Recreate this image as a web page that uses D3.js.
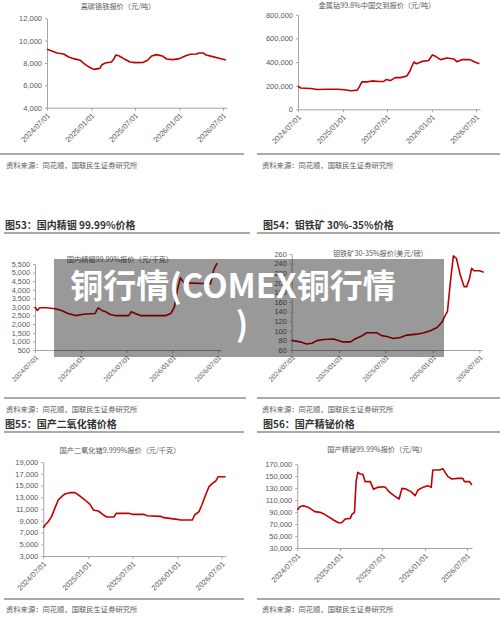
<!DOCTYPE html>
<html>
<head>
<meta charset="utf-8">
<script src="https://cdn.jsdelivr.net/npm/d3@7"></script>
<style>
  body { margin: 0; background: #fff; }
  svg { display: block; }
</style>
</head>
<body>
<svg id="page"></svg>
<script>
const WIDTH = 500;
const HEIGHT = 617;
const LINE_COLOR = "#c00000";
const FONT = "'Liberation Sans', 'Noto Sans CJK SC', sans-serif";
const CJK = "'Noto Sans CJK SC', sans-serif";

// shared x ticks
const xTickDates = ["2024-07-01", "2025-01-01", "2025-07-01", "2026-01-01", "2026-07-01"];
const xTickLabels = ["2024/07/01", "2025/01/01", "2025/07/01", "2026/01/01", "2026/07/01"];

// high carbon ferrochrome (yuan/ton)
const chromeTicks = [4000, 6000, 8000, 10000, 12000];
const chromePrice = [
  ["2024-07-01", 9220], ["2024-07-21", 9070], ["2024-08-11", 8900], ["2024-09-08", 8800],
  ["2024-09-29", 8540], ["2024-10-19", 8390], ["2024-11-16", 8240], ["2024-12-07", 7850],
  ["2024-12-28", 7580], ["2025-01-11", 7430], ["2025-02-05", 7520], ["2025-02-14", 7850],
  ["2025-02-28", 8000], ["2025-03-25", 8090], ["2025-04-05", 8390], ["2025-04-13", 8720],
  ["2025-04-27", 8630], ["2025-05-20", 8330], ["2025-06-10", 8090], ["2025-07-01", 8030],
  ["2025-08-05", 8060], ["2025-08-22", 8240], ["2025-09-08", 8630], ["2025-09-28", 8750],
  ["2025-10-22", 8630], ["2025-11-09", 8360], ["2025-12-06", 8300], ["2026-01-01", 8390],
  ["2026-01-25", 8630], ["2026-02-15", 8780], ["2026-03-12", 8800], ["2026-03-25", 8900],
  ["2026-04-09", 8900], ["2026-04-22", 8720], ["2026-05-19", 8570], ["2026-06-15", 8420],
  ["2026-07-13", 8270]
];

// cobalt 99.8% (yuan/ton)
const cobaltTicks = [0, 200000, 400000, 600000, 800000];
const cobaltPrice = [
  ["2024-07-01", 195000], ["2024-07-12", 180000], ["2024-08-22", 176000], ["2024-09-19", 168000],
  ["2024-10-30", 170000], ["2024-12-10", 170000], ["2025-01-07", 165000], ["2025-02-03", 157000],
  ["2025-03-01", 162000], ["2025-03-10", 192000], ["2025-03-20", 232000], ["2025-04-10", 232000],
  ["2025-05-01", 240000], ["2025-05-28", 235000], ["2025-06-18", 235000], ["2025-06-27", 252000],
  ["2025-07-15", 243000], ["2025-08-04", 268000], ["2025-08-25", 268000], ["2025-09-21", 282000],
  ["2025-10-03", 324000], ["2025-10-19", 400000], ["2025-10-30", 385000], ["2025-11-22", 405000],
  ["2025-12-19", 413000], ["2026-01-03", 460000], ["2026-01-16", 448000], ["2026-02-06", 420000],
  ["2026-03-04", 434000], ["2026-04-01", 426000], ["2026-04-13", 403000], ["2026-05-04", 420000],
  ["2026-06-07", 420000], ["2026-06-28", 398000], ["2026-07-15", 386000]
];

// indium 99.99% (yuan/kg)
const indiumTicks = [500, 1000, 1500, 2000, 2500, 3000, 3500, 4000, 4500, 5000, 5500];
const indiumPrice = [
  ["2024-07-01", 3000], ["2024-07-10", 2800], ["2024-07-20", 2960], ["2024-08-15", 2960],
  ["2024-09-20", 2900], ["2024-10-15", 2800], ["2024-11-10", 2620], ["2024-12-10", 2500],
  ["2025-01-10", 2580], ["2025-02-25", 2620], ["2025-03-10", 2950], ["2025-03-25", 2800],
  ["2025-04-10", 2720], ["2025-04-25", 2580], ["2025-05-15", 2500], ["2025-07-10", 2500],
  ["2025-07-20", 2720], ["2025-08-05", 2620], ["2025-08-25", 2500], ["2025-12-05", 2500],
  ["2025-12-25", 2620], ["2026-01-08", 3000], ["2026-01-20", 4000], ["2026-02-01", 4700],
  ["2026-02-15", 4400], ["2026-06-01", 4350], ["2026-06-15", 5200], ["2026-06-28", 5550]
];

// ferromolybdenum ore 30-35% (usd/lb)
const molyTicks = [60, 80, 100, 120, 140, 160, 180, 200, 220, 240, 260];
const molyPrice = [
  ["2024-07-01", 80], ["2024-08-03", 77], ["2024-08-28", 72.5], ["2024-09-18", 74],
  ["2024-10-07", 79.5], ["2024-11-02", 82], ["2024-12-11", 83], ["2025-01-13", 77],
  ["2025-02-15", 77], ["2025-03-04", 83], ["2025-03-30", 89], ["2025-04-19", 96],
  ["2025-05-28", 96], ["2025-06-16", 90], ["2025-07-06", 88], ["2025-08-01", 84],
  ["2025-08-28", 86], ["2025-09-22", 91], ["2025-11-01", 93], ["2025-11-28", 96],
  ["2025-12-22", 100], ["2026-01-18", 107], ["2026-02-07", 119], ["2026-02-21", 135],
  ["2026-02-27", 140], ["2026-03-10", 199], ["2026-03-22", 256], ["2026-04-03", 251],
  ["2026-04-18", 216], ["2026-05-03", 192], ["2026-05-13", 192], ["2026-05-24", 209],
  ["2026-06-01", 230], ["2026-06-10", 225], ["2026-07-02", 225], ["2026-07-18", 222]
];

// germanium dioxide 99.999% (yuan/kg)
const germaniumTicks = [3000, 5000, 7000, 9000, 11000, 13000, 15000, 17000, 19000];
const germaniumPrice = [
  ["2024-07-01", 7800], ["2024-07-08", 8280], ["2024-07-21", 8840], ["2024-08-04", 9700],
  ["2024-08-17", 11110], ["2024-08-31", 12530], ["2024-09-14", 13100], ["2024-09-27", 13550],
  ["2024-10-18", 13780], ["2024-11-08", 13780], ["2024-11-28", 13210], ["2024-12-19", 12530],
  ["2025-01-08", 11800], ["2025-01-22", 10830], ["2025-02-11", 10660], ["2025-03-04", 9980],
  ["2025-03-18", 9640], ["2025-04-17", 9640], ["2025-04-25", 10260], ["2025-06-15", 10260],
  ["2025-06-29", 10090], ["2025-08-16", 10090], ["2025-08-30", 9860], ["2025-10-24", 9750],
  ["2025-11-06", 9530], ["2025-12-31", 9240], ["2026-01-14", 9130], ["2026-03-03", 9130],
  ["2026-03-12", 9980], ["2026-03-30", 10550], ["2026-04-12", 11800], ["2026-04-26", 13380],
  ["2026-05-10", 14800], ["2026-05-24", 15370], ["2026-06-07", 15770], ["2026-06-17", 16500],
  ["2026-07-17", 16500]
];

// bismuth 99.99% (yuan/ton)
const bismuthTicks = [30000, 50000, 70000, 90000, 110000, 130000, 150000, 170000];
const bismuthPrice = [
  ["2024-07-01", 93300], ["2024-07-12", 98900], ["2024-07-26", 100600], ["2024-08-17", 97800],
  ["2024-08-31", 94400], ["2024-09-14", 90600], ["2024-10-07", 89400], ["2024-10-21", 87200],
  ["2024-11-11", 82200], ["2024-12-04", 76700], ["2024-12-25", 72200], ["2025-01-08", 72200],
  ["2025-01-23", 78300], ["2025-02-14", 79400], ["2025-02-21", 86100], ["2025-03-04", 89400],
  ["2025-03-11", 140600], ["2025-03-18", 156100], ["2025-03-29", 153300], ["2025-04-09", 152800],
  ["2025-04-19", 140600], ["2025-05-11", 140600], ["2025-05-25", 127800], ["2025-06-12", 131100],
  ["2025-07-01", 132200], ["2025-07-15", 131100], ["2025-07-30", 123900], ["2025-08-21", 117200],
  ["2025-09-12", 111700], ["2025-09-24", 129400], ["2025-10-11", 128300], ["2025-11-02", 123900],
  ["2025-11-20", 117200], ["2025-12-02", 126700], ["2025-12-23", 131100], ["2026-01-14", 133900],
  ["2026-01-28", 131100], ["2026-02-04", 160000], ["2026-03-05", 160000], ["2026-03-19", 162200],
  ["2026-03-29", 156100], ["2026-04-10", 148900], ["2026-04-27", 145000], ["2026-05-22", 146100],
  ["2026-06-13", 146100], ["2026-06-20", 140600], ["2026-07-12", 140600], ["2026-07-22", 135000]
];

const SOURCE_TEXT = "资料来源：同花顺，国联民生证券研究所";

const parseDate = d3.timeParse("%Y-%m-%d");

let svg = d3.select("#page")
  .attr("width", WIDTH)
  .attr("height", HEIGHT)
  .style("background", "#fff");

svg.append("rect").attr("width", WIDTH).attr("height", HEIGHT).attr("fill", "#fff");

// one small chart panel
function drawChart(opt) {
  let g = svg.append("g");

  let t0 = parseDate(xTickDates[0]);
  let tLast = parseDate(xTickDates[xTickDates.length - 1]);
  let tmp = d3.scaleTime().domain([t0, tLast]).range([opt.x0, opt.xLast]);
  let x = d3.scaleTime().domain([t0, tmp.invert(opt.x1)]).range([opt.x0, opt.x1]);

  let ticks = opt.ticks;
  let y = d3.scaleLinear()
    .domain([ticks[0], ticks[ticks.length - 1]])
    .range([opt.yBot, opt.yTop]);

  let xAxis = d3.axisBottom(x)
    .tickValues(xTickDates.map(parseDate))
    .tickFormat((d, i) => xTickLabels[i])
    .tickSize(3)
    .tickSizeOuter(0);

  let yAxis = d3.axisLeft(y)
    .tickValues(ticks)
    .tickFormat(d3.format(","))
    .tickSize(2)
    .tickPadding(3)
    .tickSizeOuter(0);

  let gx = g.append("g").attr("transform", `translate(0,${opt.yBot})`).call(xAxis);
  gx.selectAll("text")
    .attr("transform", "rotate(-45)")
    .attr("dx", "-0.5em")
    .attr("dy", "0.3em")
    .style("text-anchor", "end")
    .style("font-size", opt.xFont + "px");

  let gy = g.append("g").attr("transform", `translate(${opt.x0},0)`).call(yAxis);
  gy.selectAll("text").style("font-size", opt.yFont + "px");

  g.selectAll(".domain, .tick line").attr("stroke", "#a6a6a6").attr("stroke-width", 1);
  g.selectAll(".tick text").attr("fill", "#595959").style("font-family", FONT);

  let line = d3.line()
    .x(d => x(parseDate(d[0])))
    .y(d => y(d[1]));

  g.append("path")
    .datum(opt.data)
    .attr("d", line)
    .attr("fill", "none")
    .attr("stroke", LINE_COLOR)
    .attr("stroke-width", 1.6)
    .attr("stroke-linejoin", "round");

  g.append("text")
    .attr("x", opt.titleX)
    .attr("y", opt.titleY)
    .attr("text-anchor", "middle")
    .attr("fill", "#595959")
    .style("font-family", CJK)
    .style("font-size", "7.2px")
    .text(opt.title);
}

// section heading with rule under it
function drawHeading(text, x, y, lx0, lx1, ly) {
  svg.append("text")
    .attr("x", x).attr("y", y)
    .attr("fill", "#333")
    .style("font-family", CJK)
    .style("font-weight", "bold")
    .style("font-size", "10px")
    .text(text);
  svg.append("line")
    .attr("x1", lx0).attr("x2", lx1).attr("y1", ly).attr("y2", ly)
    .attr("stroke", "#8c8c8c").attr("stroke-width", 1.5);
}

function drawSource(x, y, lx0, lx1, ly) {
  svg.append("line")
    .attr("x1", lx0).attr("x2", lx1).attr("y1", ly).attr("y2", ly)
    .attr("stroke", "#8c8c8c").attr("stroke-width", 1.5);
  svg.append("text")
    .attr("x", x).attr("y", y)
    .attr("fill", "#595959")
    .style("font-family", CJK)
    .style("font-size", "7.3px")
    .text(SOURCE_TEXT);
}

drawChart({data: chromePrice, ticks: chromeTicks, title: "高碳铬铁报价（元/吨）",
  x0: 47, xLast: 223, x1: 227, yTop: 18.3, yBot: 107.7, titleX: 118, titleY: 9, xFont: 7.5, yFont: 7.5});
drawChart({data: cobaltPrice, ticks: cobaltTicks, title: "金属钴99.8%中国交到报价（元/吨）",
  x0: 298, xLast: 476, x1: 480, yTop: 14.7, yBot: 109.3, titleX: 377, titleY: 8, xFont: 7.5, yFont: 7.5});
drawChart({data: indiumPrice, ticks: indiumTicks, title: "国内精铟99.99%报价（元/千克）",
  x0: 35, xLast: 218, x1: 221, yTop: 264, yBot: 350, titleX: 120, titleY: 262, xFont: 6.8, yFont: 7.3});
drawChart({data: molyPrice, ticks: molyTicks, title: "钼铁矿30-35%报价(美元/磅)",
  x0: 291.7, xLast: 479.3, x1: 482, yTop: 254, yBot: 350, titleX: 378, titleY: 256, xFont: 6.8, yFont: 7.3});
drawChart({data: germaniumPrice, ticks: germaniumTicks, title: "国产二氧化锗9.999%报价（元/千克）",
  x0: 43.3, xLast: 221.7, x1: 226, yTop: 462, yBot: 556, titleX: 120, titleY: 453, xFont: 7.5, yFont: 7.5});
drawChart({data: bismuthPrice, ticks: bismuthTicks, title: "国产精铋99.99%报价（元/吨）",
  x0: 297.3, xLast: 467, x1: 472, yTop: 464, yBot: 548, titleX: 377, titleY: 452, xFont: 7.5, yFont: 7.5});

drawSource(6, 168, 0, 244, 154);
drawSource(262, 168, 257, 500, 154);
drawSource(6, 412, 4, 246, 398);
drawSource(262, 412, 257, 500, 398);
drawSource(6, 612, 4, 244, 599);
drawSource(262, 612, 257, 500, 599);

drawHeading("图53：国内精铟 99.99%价格", 5, 229, 4, 250, 233);
drawHeading("图54：钼铁矿 30%-35%价格", 263, 229, 257, 500, 233);
drawHeading("图55：国产二氧化锗价格", 5, 428, 4, 244, 432);
drawHeading("图56：国产精铋价格", 263, 428, 257, 500, 432);

// translucent caption box over the middle
let overlay = svg.append("g");
overlay.append("rect")
  .attr("x", 54).attr("y", 259)
  .attr("width", 390).attr("height", 98)
  .attr("fill", "rgba(0,0,0,0.4)");
overlay.append("text")
  .attr("x", 233).attr("y", 298)
  .attr("text-anchor", "middle")
  .attr("fill", "#fff")
  .style("font-family", CJK)
  .style("font-weight", "bold")
  .style("font-size", "33px")
  .text("铜行情(COMEX铜行情");
overlay.append("text")
  .attr("x", 242).attr("y", 336)
  .attr("text-anchor", "middle")
  .attr("fill", "#fff")
  .style("font-family", CJK)
  .style("font-weight", "bold")
  .style("font-size", "33px")
  .text(")");
</script>
</body>
</html>
